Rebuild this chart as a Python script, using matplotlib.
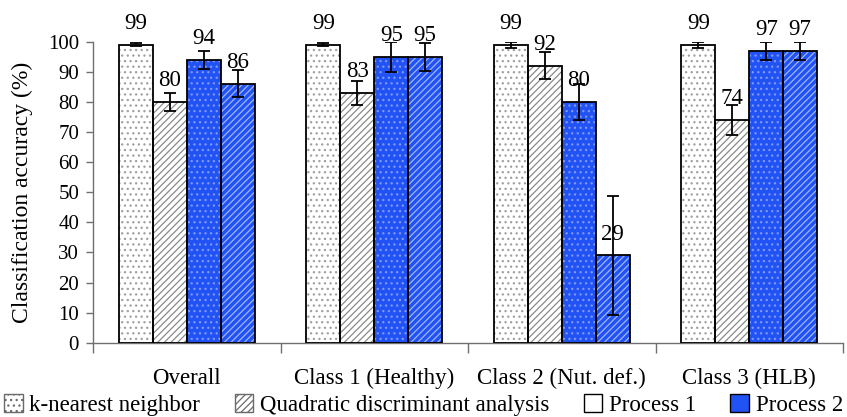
import matplotlib
matplotlib.use("Agg")
import matplotlib.pyplot as plt
import matplotlib.patches as mpatches
import numpy as np

categories = ["Overall", "Class 1 (Healthy)", "Class 2 (Nut. def.)", "Class 3 (HLB)"]
series_names = ["k-nearest neighbor", "Quadratic discriminant analysis", "Process 1", "Process 2"]

knn = [99, 99, 99, 99]
qda = [80, 83, 92, 74]
process1 = [94, 95, 80, 97]
process2 = [86, 95, 29, 97]

knn_err = [0.5, 0.5, 1.0, 1.0]
qda_err = [3.0, 4.0, 4.5, 5.0]
process1_err = [3.0, 5.0, 6.0, 3.0]
process2_err = [4.5, 4.7, 19.7, 3.0]

yticks = [0, 10, 20, 30, 40, 50, 60, 70, 80, 90, 100]

BLUE = "#2152f4"
plt.rcParams["font.family"] = ["Liberation Serif", "DejaVu Serif"]
plt.rcParams["hatch.linewidth"] = 0.9

fig = plt.figure(figsize=(8.47, 4.17), dpi=100)
ax = fig.add_axes([0.1098, 0.178, 0.8855, 0.722])

values = [knn, qda, process1, process2]
errors = [knn_err, qda_err, process1_err, process2_err]
faces = ["white", "white", BLUE, BLUE]
hatch_cols = ["#a0a0a0", "#8a8a8a", "#7f98ff", "#a2b6ff"]
hatches = ["...", "/////", "...", "/////"]

width = 0.181
centers = np.arange(len(categories)) + 0.5
offsets = [-1.5, -0.5, 0.5, 1.5]

for vals, errs, fc, hc, h, off in zip(values, errors, faces, hatch_cols, hatches, offsets):
    x = centers + off * width
    ax.bar(x, vals, width, color=fc, edgecolor=hc, hatch=h, linewidth=0, zorder=2)
    ax.bar(x, vals, width, fill=False, edgecolor="black", linewidth=1.3, zorder=3)
    ax.errorbar(x, vals, yerr=errs, fmt="none", ecolor="black", elinewidth=1.3,
                capsize=4, capthick=1.3, zorder=4)
    for xi, v in zip(x, vals):
        ax.text(xi, v + 7.8, f"{v:d}", ha="center", va="center_baseline", fontsize=16.5,
                color="black", zorder=5)

ax.set_xlim(0, 4)
ax.set_ylim(0, 100)
ax.set_yticks(yticks)
ax.set_yticklabels([str(t) for t in yticks], fontsize=15)
ax.set_xticks([0, 1, 2, 3, 4])
ax.set_xticklabels([])
ax.set_xticks(centers, minor=True)
ax.set_xticklabels(categories, minor=True, fontsize=16.5)
ax.tick_params(axis="x", which="minor", length=0, pad=18)
ax.tick_params(axis="x", which="major", length=7, width=1, color="#707070", direction="out")
ax.tick_params(axis="y", length=5, width=1, color="#707070", pad=5)
for s in ["top", "right"]:
    ax.spines[s].set_visible(False)
for s in ["left", "bottom"]:
    ax.spines[s].set_color("#707070")
    ax.spines[s].set_linewidth(1.0)

ax.set_ylabel("Classification accuracy (%)", fontsize=17, labelpad=11)

legend_handles = [
    mpatches.Patch(facecolor="white", edgecolor="#6a6a6a", hatch="...", linewidth=1.0),
    mpatches.Patch(facecolor="white", edgecolor="#6a6a6a", hatch="/////", linewidth=1.0),
    mpatches.Patch(facecolor="white", edgecolor="black", linewidth=1.0),
    mpatches.Patch(facecolor=BLUE, edgecolor="black", linewidth=1.0),
]
fig.legend(legend_handles, series_names, loc="lower center", bbox_to_anchor=(0.5, 0.0),
           ncol=4, frameon=False, fontsize=16.5, handlelength=0.8, handleheight=0.8,
           handletextpad=0.3, columnspacing=1.5, borderaxespad=0.0, borderpad=0.05)

fig.savefig("out.png", dpi=100)
